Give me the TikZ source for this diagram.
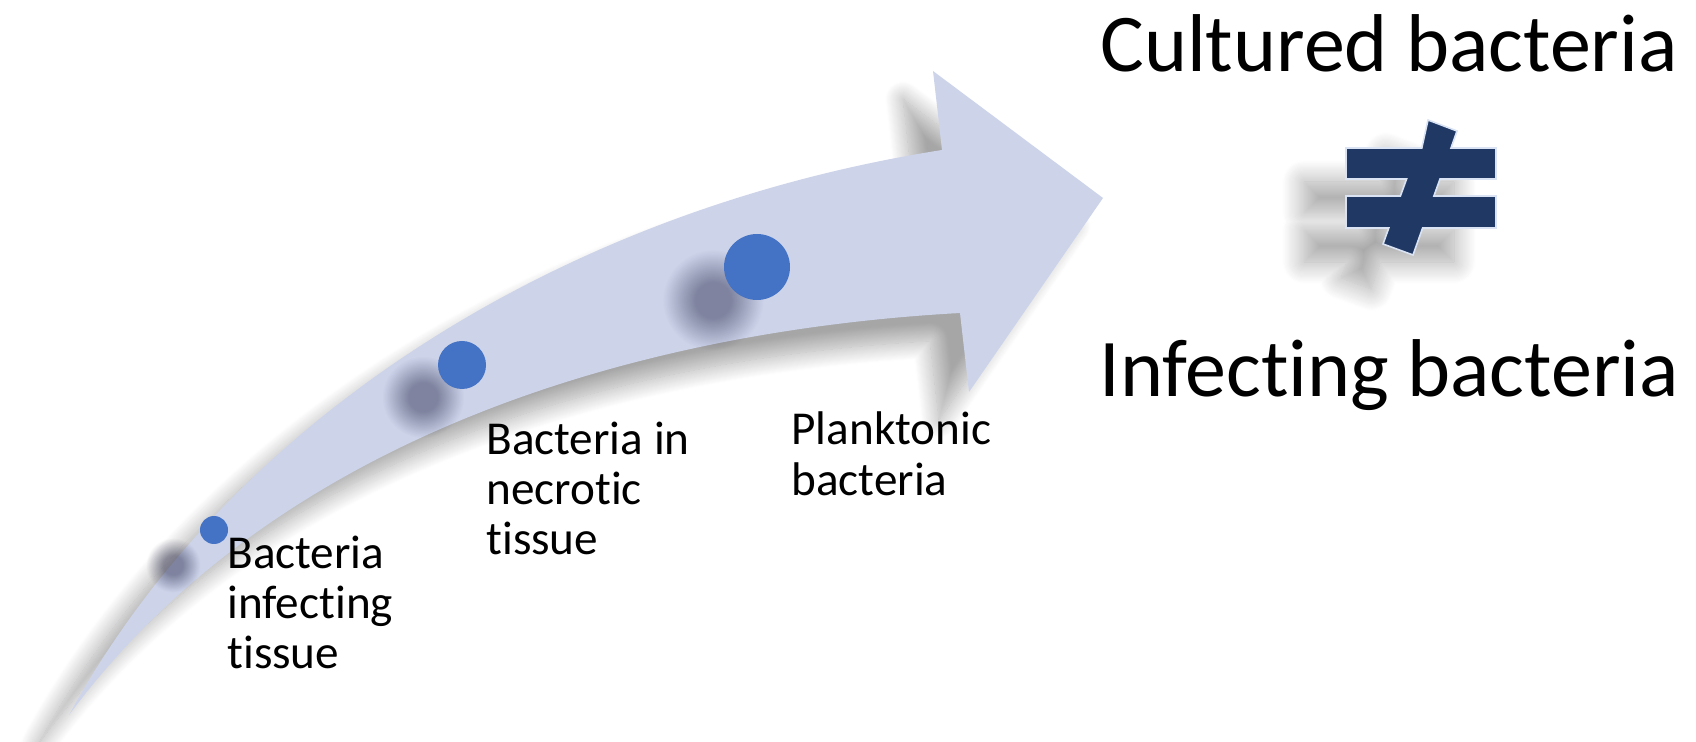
\documentclass[tikz,border=0pt]{standalone}
\usepackage{fontspec}
\setmainfont{Carlito}[Ligatures=NoCommon]
\usetikzlibrary{shadows.blur,fadings}
\definecolor{arrowfill}{RGB}{205,212,234}
\definecolor{dotblue}{RGB}{68,114,196}
\definecolor{navy}{RGB}{31,56,100}
\definecolor{signedge}{RGB}{218,227,243}
\pgfdeclareradialshading{spotshade}{\pgfpointorigin}{color(0bp)=(white); color(6bp)=(white); color(17bp)=(black); color(50bp)=(black)}
\pgfdeclarefading{softspot}{\pgfuseshading{spotshade}}
\begin{document}
\begin{tikzpicture}[x=0.5pt,y=-0.5pt,
  smalllabel/.style={anchor=base west, inner sep=0pt, font=\fontsize{23.6}{25}\selectfont},
  biglabel/.style={anchor=base west, inner sep=0pt, font=\fontsize{41}{48}\selectfont},
  dot/.style={circle, fill=dotblue, inner sep=0pt},
  spot/.style={fill=black!85!blue, fill opacity=0.38, path fading=softspot},
  bigarrow/.style={fill=arrowfill,
    blur shadow={shadow xshift=-15pt, shadow yshift=-14pt, shadow blur radius=9pt,
      shadow blur steps=20, shadow opacity=35}},
  notequal/.style={fill=navy, draw=signedge, line width=0.8pt,
    blur shadow={shadow xshift=-21pt, shadow yshift=-17pt, shadow blur radius=11pt,
      shadow blur steps=20, shadow opacity=35}}
]
\useasboundingbox (0,0) rectangle (1696,742);

% curved arrow
\path[bigarrow] (69,715) .. controls (230,420) and (560,210) .. (942,150)
  -- (933,71) -- (1103,198) -- (969,392) -- (960,313)
  .. controls (650,330) and (280,430) .. (69,715) -- cycle;

% dot centres
\coordinate (c1) at (214,530);
\coordinate (c2) at (462,365);
\coordinate (c3) at (757,267);

% dot shadows
\fill[spot] ([shift={(-41,35)}]c1) circle (40);
\fill[spot] ([shift={(-39,32)}]c2) circle (60);
\fill[spot] ([shift={(-44,33)}]c3) circle (74);

% dots
\node[dot, minimum size=14pt] (d1) at (c1) {};
\node[dot, minimum size=24pt] (d2) at (c2) {};
\node[dot, minimum size=33pt] (d3) at (c3) {};

% labels
\node[smalllabel] (lab1) at (227,568) {\vtop{\hbox{Bacteria}\hbox{infecting}\hbox{tissue}}};
\node[smalllabel] (lab2) at (486,455) {\vtop{\hbox{Bacteria in}\hbox{necrotic}\hbox{tissue}}};
\node[smalllabel] (lab3) at (791,445) {\vtop{\hbox{Planktonic}\hbox{bacteria}}};

\node[biglabel] (cult) at (1100,72) {Cultured bacteria};
\node[biglabel] (inf) at (1099,397) {Infecting bacteria};

% not-equal sign
\path[notequal] (1428,120) -- (1457,131) -- (1451,148) -- (1496,148) -- (1496,179)
  -- (1440,179) -- (1433.9,196) -- (1496,196) -- (1496,228) -- (1422.6,228)
  -- (1413,255) -- (1383,244) -- (1388.8,228) -- (1346,228) -- (1346,196)
  -- (1400.4,196) -- (1406.6,179) -- (1346,179) -- (1346,148) -- (1421.8,148) -- cycle;
\end{tikzpicture}
\end{document}
